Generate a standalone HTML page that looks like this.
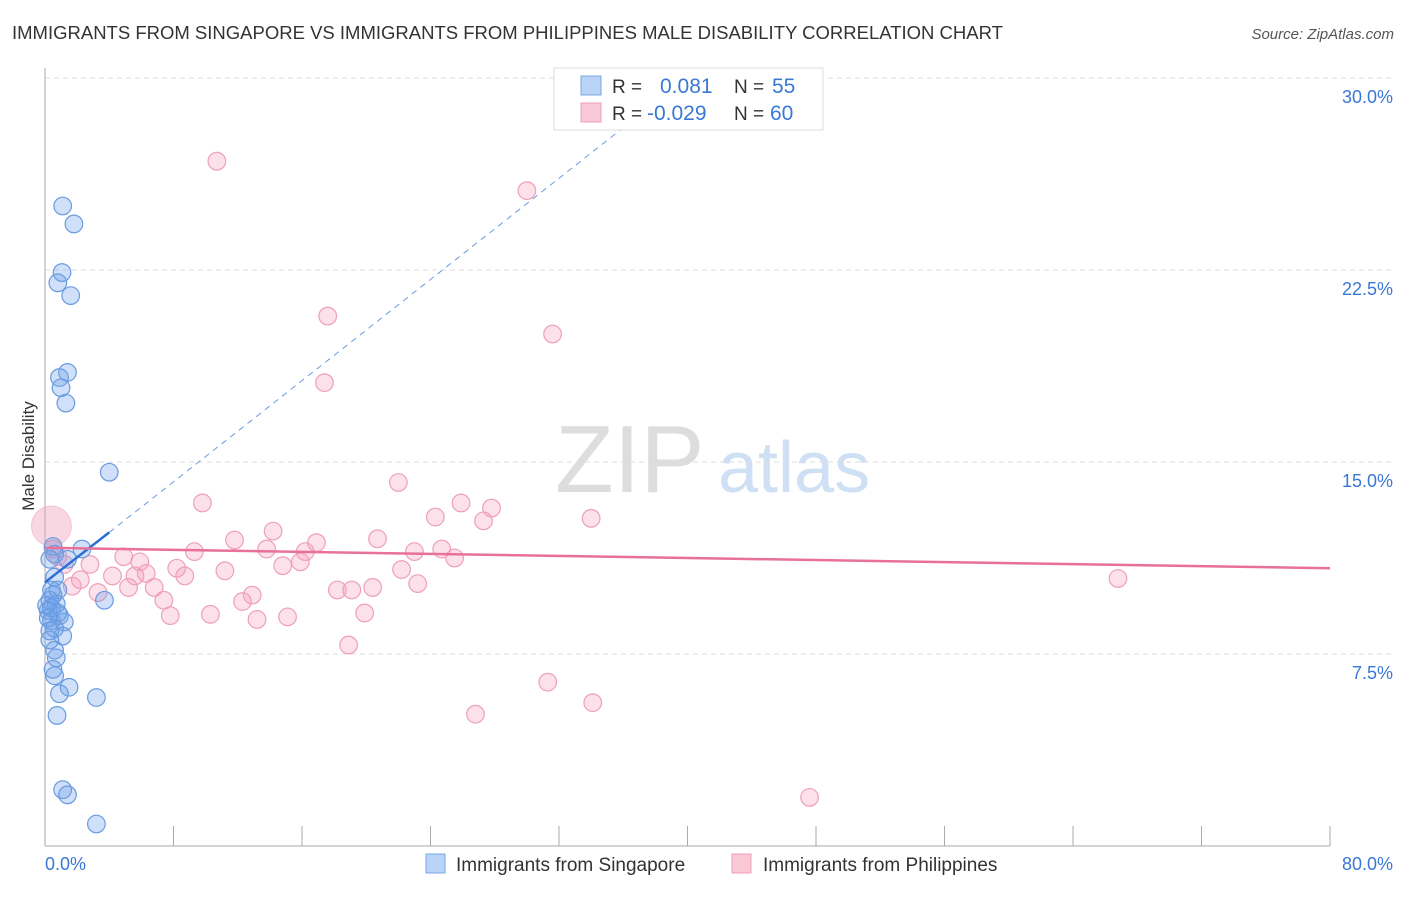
<!DOCTYPE html>
<html><head><meta charset="utf-8"><style>
body{margin:0;background:#fff;font-family:"Liberation Sans",sans-serif}
svg text{font-family:"Liberation Sans",sans-serif}
</style></head><body>
<svg id="c" width="1406" height="892">
<text x="12" y="39" font-size="18.5" fill="#333">IMMIGRANTS FROM SINGAPORE VS IMMIGRANTS FROM PHILIPPINES MALE DISABILITY CORRELATION CHART</text>
<text x="1394" y="39" font-size="15" fill="#555" text-anchor="end" font-style="italic">Source: ZipAtlas.com</text>
<text x="34" y="456" font-size="17" fill="#333" text-anchor="middle" transform="rotate(-90 34 456)">Male Disability</text>
<text x="555" y="492" font-size="96" fill="#ddd" font-family="Liberation Serif">ZIP</text>
<text x="718" y="492" font-size="72" fill="#cfe0f5">atlas</text>
<g id="grid"></g><g id="pts"></g><g id="trend"></g>
<g>
<rect x="554" y="68" width="269" height="62" fill="#fff" stroke="#ddd"/>
<rect x="581" y="76" width="20" height="19" fill="#b9d3f7" stroke="#7aa6e6"/>
<rect x="581" y="103" width="20" height="19" fill="#f9c9d8" stroke="#eea0b8"/>
<text x="612" y="93" font-size="19" fill="#333">R =</text><text x="660" y="93" font-size="21" fill="#3a78d6">0.081</text>
<text x="734" y="93" font-size="19" fill="#333">N =</text><text x="772" y="93" font-size="21" fill="#3a78d6">55</text>
<text x="612" y="120" font-size="19" fill="#333">R =</text><text x="647" y="120" font-size="21" fill="#3a78d6">-0.029</text>
<text x="734" y="120" font-size="19" fill="#333">N =</text><text x="770" y="120" font-size="21" fill="#3a78d6">60</text>
</g>
<g>
<rect x="426" y="854" width="19" height="19" fill="#b9d3f7" stroke="#7aa6e6"/>
<text x="456" y="871" font-size="19" fill="#333">Immigrants from Singapore</text>
<rect x="732" y="854" width="19" height="19" fill="#f9c9d8" stroke="#eea0b8"/>
<text x="763" y="871" font-size="19" fill="#333">Immigrants from Philippines</text>
</g>
</svg>
<script>
const xTicks=[0,8,16,24,32,40,48,56,64,72,80];
const yTicks=[7.5,15,22.5,30];
const blueX=[1.1,1.8,1.06,0.8,1.6,1.4,0.9,1.0,1.3,4.0,2.3,0.5,0.6,0.3,1.4,0.4,0.8,0.3,0.7,0.2,0.9,0.4,1.2,0.6,1.1,0.3,0.6,0.7,0.5,0.6,1.5,0.9,3.2,0.75,1.1,1.4,3.2,3.7,0.1,0.3,0.8,0.2,0.5,0.4,0.6];
const blueY=[25.0,24.3,22.4,22.0,21.5,18.5,18.3,17.9,17.3,14.6,11.6,11.7,11.4,11.2,11.2,10.0,10.0,9.6,9.45,9.2,9.0,8.8,8.75,8.5,8.2,8.05,7.65,7.35,6.9,6.65,6.2,5.95,5.8,5.1,2.2,2.0,0.86,9.6,9.4,8.4,9.1,8.9,9.8,9.3,10.5];
const pinkX=[10.7,30.0,17.6,31.6,17.4,22.0,9.8,25.9,27.8,24.3,27.3,34.0,14.2,11.8,20.7,16.9,13.8,9.3,16.2,23.0,24.7,25.5,4.9,5.9,15.9,14.8,2.8,8.2,11.2,22.2,5.6,4.2,6.3,8.7,2.2,1.7,23.2,66.8,6.8,18.2,19.1,20.4,5.2,3.3,12.9,12.3,7.4,10.3,7.8,19.9,13.2,15.1,18.9,31.3,34.1,26.8,47.6,0.5,0.8,1.2];
const pinkY=[26.75,25.6,20.7,20.0,18.1,14.2,13.4,13.4,13.2,12.85,12.7,12.8,12.3,11.95,12.0,11.85,11.6,11.5,11.5,11.5,11.6,11.25,11.3,11.1,11.1,10.95,11.0,10.85,10.75,10.8,10.55,10.55,10.65,10.55,10.4,10.15,10.25,10.45,10.1,10.0,10.0,10.1,10.1,9.9,9.8,9.55,9.6,9.05,9.0,9.1,8.85,8.95,7.85,6.4,5.6,5.15,1.9,11.6,11.3,11.0];
const blueTrend=[[0,10.3],[4,12.25]];
const blueDash=[[4,12.25],[37.5,28.8]];
const pinkTrend=[[0,11.65],[80,10.85]];
const X=v=>45+v*(1330-45)/80, Y=v=>846-v*25.6;
const NS='http://www.w3.org/2000/svg';
function mk(p,t,a){const e=document.createElementNS(NS,t);for(const k in a)e.setAttribute(k,a[k]);document.getElementById(p).appendChild(e);return e;}
yTicks.forEach(t=>{
 const l=mk('grid','line',{x1:45,x2:1394,y1:Y(t),y2:Y(t),stroke:'#ddd','stroke-dasharray':'5,4'});
 
 
 const tx=mk('grid','text',{x:1393,y:Y(t)+25,'font-size':18,fill:'#3a78d6','text-anchor':'end'});tx.textContent=t.toFixed(1)+'%';
 
 
});
mk('grid','line',{x1:45,x2:45,y1:68,y2:846,stroke:'#aaa'});
mk('grid','line',{x1:45,x2:1330,y1:846,y2:846,stroke:'#aaa'});
xTicks.forEach(t=>{const l=mk('grid','line',{x1:X(t),x2:X(t),y1:826,y2:846,stroke:'#aaa'});
 
 });
[[0,'start',45],[80,'end',1393]].forEach(([t,a,x])=>{const tx=mk('grid','text',{x:x,y:870,'font-size':18,fill:'#3a78d6','text-anchor':a});tx.textContent=t.toFixed(1)+'%';
 
 });
mk('pts','circle',{cx:X(0.4),cy:Y(12.5),r:20,fill:'rgba(240,150,180,0.38)',stroke:'rgba(235,140,170,0.4)'});
pinkX.forEach((v,i)=>{const c=mk('pts','circle',{cx:X(v),cy:Y(pinkY[i]),r:8.8,fill:'rgba(245,160,190,0.33)',stroke:'#eea0b8','stroke-width':1.2});
 
 });
blueX.forEach((v,i)=>{const c=mk('pts','circle',{cx:X(v),cy:Y(blueY[i]),r:8.8,fill:'rgba(110,160,235,0.33)',stroke:'#6a9be0','stroke-width':1.2});
 
 });
const pl=(d,a)=>mk('trend','line',Object.assign({x1:X(d[0][0]),y1:Y(d[0][1]),x2:X(d[1][0]),y2:Y(d[1][1])},a));
const t1=pl(blueDash,{stroke:'#6a9be0','stroke-dasharray':'6,5','stroke-width':1});


const t2=pl(blueTrend,{stroke:'#2a6fd6','stroke-width':2.5});


const t3=pl(pinkTrend,{stroke:'#e8709a','stroke-width':2.5});


</script>
</body></html>
